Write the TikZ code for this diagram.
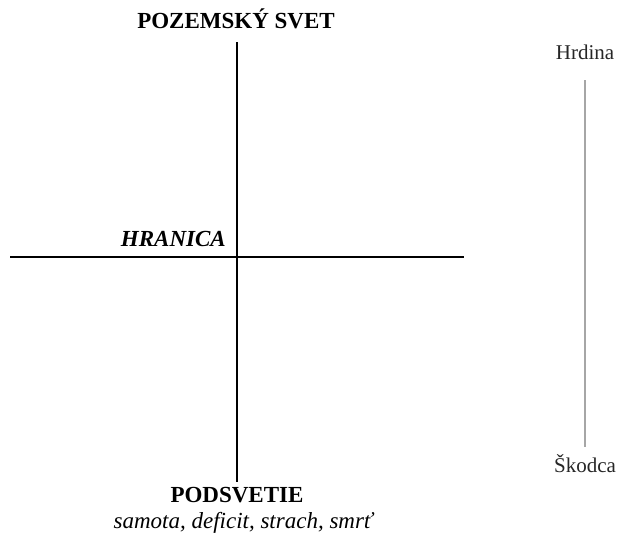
\documentclass[tikz,border=0pt]{standalone}
\usepackage{fontspec}
\setmainfont{Liberation Serif}
\usetikzlibrary{positioning}

\begin{document}
\begin{tikzpicture}[x=1pt, y=-1pt,
    axis/.style={line width=1.6pt},
    scaleline/.style={draw=gray!70, line width=1.3pt},
    lbl/.style={font=\fontsize{23}{27}\selectfont, inner sep=0pt},
    side/.style={font=\fontsize{21}{25}\selectfont, inner sep=0pt, text=black!85}]
\useasboundingbox (0,0) rectangle (620,546);

% Vertical axis: world above, underworld below
\node[lbl, anchor=base] (svet) at (236,28) {\bfseries POZEMSKÝ SVET};
\coordinate (top) at (237,42);
\coordinate (bot) at (237,482);
\draw[axis] (top) -- (bot);
\node[lbl, anchor=base] (podsvetie) at (237,502) {\bfseries PODSVETIE};
\node[lbl, anchor=base] (motivy) at (243,528) {\itshape samota, deficit, strach, smrť};

% Border (horizontal line)
\coordinate (west) at (10,257);
\coordinate (east) at (464,257);
\draw[axis] (west) -- (east);
\node[lbl, anchor=base east] (hranica) at (226,246) {\bfseries\itshape HRANICA};

% Hero -- villain scale
\node[side, anchor=base] (hrdina) at (585,59) {Hrdina};
\node[side, anchor=base] (skodca) at (585,472) {Škodca};
\coordinate (hore) at (585,80);
\coordinate (dole) at (585,447);
\draw[scaleline] (hore) -- (dole);
\end{tikzpicture}
\end{document}
